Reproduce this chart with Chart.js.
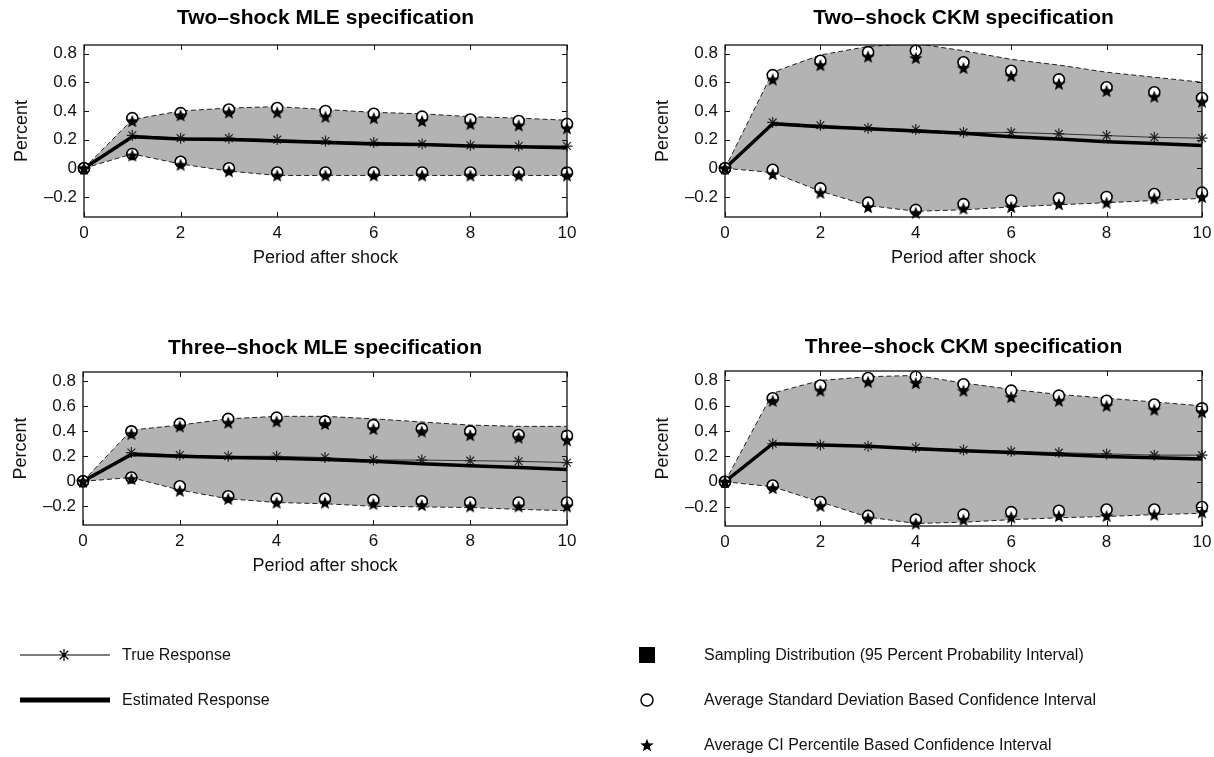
<!DOCTYPE html>
<html>
<head>
<meta charset="utf-8">
<title>Impulse responses</title>
<script src="https://cdn.jsdelivr.net/npm/chart.js@4.4.1/dist/chart.umd.min.js"></script>
<style>
  html, body { margin: 0; padding: 0; background: #fff; overflow: hidden; }
  body { width: 1214px; height: 757px; position: relative; font-family: 'Liberation Sans', Arial, sans-serif; color: #111; }
  canvas.panel { position: absolute; }
  #keyMarks { position: absolute; left: 0; top: 620px; }
  .key { position: absolute; font-size: 16px; line-height: 18px; white-space: nowrap; transform: translateY(-50%); }
</style>
</head>
<body>
<canvas id="p1" class="panel"></canvas>
<canvas id="p2" class="panel"></canvas>
<canvas id="p3" class="panel"></canvas>
<canvas id="p4" class="panel"></canvas>
<canvas id="keyMarks" width="1214" height="137"></canvas>
<div class="key" style="left:122px; top:655px">True Response</div>
<div class="key" style="left:122px; top:700px">Estimated Response</div>
<div class="key" style="left:704px; top:655px">Sampling Distribution (95 Percent Probability Interval)</div>
<div class="key" style="left:704px; top:700px">Average Standard Deviation Based Confidence Interval</div>
<div class="key" style="left:704px; top:745px">Average CI Percentile Based Confidence Interval</div>

<script>
// periods after the shock and axis ticks
var periods = [0, 1, 2, 3, 4, 5, 6, 7, 8, 9, 10];
var xTicks = [0, 2, 4, 6, 8, 10];
var yTicks = [-0.2, 0, 0.2, 0.4, 0.6, 0.8];

// Two-shock MLE
var twoMleBandHi = [0, 0.34, 0.40, 0.42, 0.43, 0.41, 0.39, 0.38, 0.36, 0.35, 0.335];
var twoMleBandLo = [0, 0.10, 0.03, -0.02, -0.05, -0.05, -0.05, -0.05, -0.05, -0.05, -0.05];
var twoMleSdHi = [0, 0.35, 0.385, 0.41, 0.42, 0.40, 0.38, 0.36, 0.34, 0.33, 0.31];
var twoMleSdLo = [0, 0.10, 0.045, 0.0, -0.03, -0.03, -0.03, -0.03, -0.03, -0.03, -0.03];
var twoMlePctHi = [0, 0.33, 0.37, 0.39, 0.39, 0.36, 0.35, 0.33, 0.31, 0.30, 0.28];
var twoMlePctLo = [0, 0.09, 0.025, -0.02, -0.05, -0.05, -0.05, -0.05, -0.05, -0.05, -0.05];
var twoMleTrue = [0, 0.23, 0.21, 0.21, 0.20, 0.19, 0.18, 0.17, 0.16, 0.155, 0.155];
var twoMleEst = [0, 0.22, 0.205, 0.20, 0.19, 0.18, 0.17, 0.165, 0.155, 0.15, 0.144];

// Two-shock CKM
var twoCkmBandHi = [0, 0.67, 0.79, 0.85, 0.87, 0.82, 0.76, 0.72, 0.67, 0.635, 0.60];
var twoCkmBandLo = [0, -0.03, -0.16, -0.26, -0.30, -0.29, -0.27, -0.255, -0.24, -0.225, -0.21];
var twoCkmSdHi = [0, 0.65, 0.75, 0.81, 0.82, 0.74, 0.68, 0.62, 0.565, 0.53, 0.49];
var twoCkmSdLo = [0, -0.01, -0.14, -0.24, -0.29, -0.25, -0.225, -0.21, -0.20, -0.18, -0.17];
var twoCkmPctHi = [0, 0.62, 0.72, 0.78, 0.77, 0.70, 0.645, 0.59, 0.54, 0.50, 0.465];
var twoCkmPctLo = [0, -0.04, -0.17, -0.27, -0.31, -0.28, -0.27, -0.25, -0.24, -0.21, -0.20];
var twoCkmTrue = [0, 0.32, 0.30, 0.28, 0.27, 0.25, 0.25, 0.24, 0.228, 0.216, 0.21];
var twoCkmEst = [0, 0.31, 0.29, 0.275, 0.26, 0.245, 0.22, 0.205, 0.185, 0.172, 0.158];

// Three-shock MLE
var threeMleBandHi = [0, 0.41, 0.45, 0.50, 0.52, 0.52, 0.50, 0.475, 0.45, 0.44, 0.44];
var threeMleBandLo = [0, 0.03, -0.07, -0.14, -0.17, -0.18, -0.20, -0.205, -0.21, -0.225, -0.235];
var threeMleSdHi = [0, 0.40, 0.46, 0.50, 0.51, 0.48, 0.45, 0.42, 0.40, 0.37, 0.365];
var threeMleSdLo = [0, 0.03, -0.04, -0.12, -0.14, -0.14, -0.15, -0.16, -0.17, -0.17, -0.17];
var threeMlePctHi = [0, 0.38, 0.44, 0.47, 0.48, 0.46, 0.42, 0.40, 0.37, 0.35, 0.33];
var threeMlePctLo = [0, 0.02, -0.075, -0.14, -0.17, -0.17, -0.18, -0.19, -0.20, -0.20, -0.20];
var threeMleTrue = [0, 0.23, 0.21, 0.20, 0.20, 0.19, 0.17, 0.17, 0.165, 0.16, 0.15];
var threeMleEst = [0, 0.215, 0.20, 0.19, 0.185, 0.175, 0.16, 0.14, 0.125, 0.11, 0.095];

// Three-shock CKM
var threeCkmBandHi = [0, 0.70, 0.80, 0.83, 0.84, 0.78, 0.73, 0.69, 0.66, 0.63, 0.60];
var threeCkmBandLo = [0, -0.04, -0.16, -0.28, -0.33, -0.32, -0.30, -0.285, -0.275, -0.26, -0.25];
var threeCkmSdHi = [0, 0.66, 0.76, 0.82, 0.83, 0.77, 0.72, 0.68, 0.64, 0.61, 0.58];
var threeCkmSdLo = [0, -0.03, -0.16, -0.27, -0.30, -0.26, -0.24, -0.23, -0.22, -0.22, -0.20];
var threeCkmPctHi = [0, 0.64, 0.72, 0.79, 0.78, 0.72, 0.67, 0.64, 0.60, 0.57, 0.55];
var threeCkmPctLo = [0, -0.05, -0.19, -0.29, -0.33, -0.30, -0.28, -0.27, -0.27, -0.26, -0.24];
var threeCkmTrue = [0, 0.30, 0.29, 0.28, 0.27, 0.25, 0.24, 0.23, 0.22, 0.21, 0.21];
var threeCkmEst = [0, 0.30, 0.29, 0.28, 0.26, 0.245, 0.23, 0.215, 0.20, 0.19, 0.18];

Chart.defaults.font.family = "'Liberation Sans', Arial, Helvetica, sans-serif";
Chart.defaults.color = '#111';

var AXIS_W = 84;   // room for y labels, same on the right so titles stay centred
var TITLE_H = 45;
var XAXIS_H = 52;
var TITLE_SIZE = 21;
var TITLE_LH = TITLE_SIZE * 1.2;

// filled five-point star used as a marker image
function starImage(r) {
  var c = document.createElement('canvas');
  c.width = c.height = Math.ceil(r * 2 + 2);
  var g = c.getContext('2d');
  g.translate(c.width / 2, c.height / 2 + r * 0.1);
  g.beginPath();
  for (var i = 0; i < 10; i++) {
    var rad = i % 2 ? r * 0.42 : r;
    var ang = -Math.PI / 2 + i * Math.PI / 5;
    g.lineTo(rad * Math.cos(ang), rad * Math.sin(ang));
  }
  g.closePath();
  g.fillStyle = '#000';
  g.fill();
  return c;
}
var star = starImage(7);

function pts(vals) {
  return periods.map(function(p, i) { return {x: p, y: vals[i]}; });
}

function tickLabel(v) {
  return v < 0 ? '\u2013' + String(Math.abs(v)) : String(v);
}

// black box round the plot with short inward ticks on all four sides
var boxFrame = {
  id: 'boxFrame',
  afterDatasetsDraw: function(chart) {
    var ctx = chart.ctx, a = chart.chartArea;
    var x = chart.scales.x, y = chart.scales.y;
    ctx.save();
    ctx.strokeStyle = '#111';
    ctx.lineWidth = 1.3;
    ctx.strokeRect(a.left, a.top, a.right - a.left, a.bottom - a.top);
    ctx.lineWidth = 1;
    ctx.beginPath();
    xTicks.forEach(function(v) {
      var px = Math.round(x.getPixelForValue(v)) + 0.5;
      ctx.moveTo(px, a.bottom); ctx.lineTo(px, a.bottom - 5);
      ctx.moveTo(px, a.top); ctx.lineTo(px, a.top + 5);
    });
    yTicks.forEach(function(v) {
      var py = Math.round(y.getPixelForValue(v)) + 0.5;
      ctx.moveTo(a.left, py); ctx.lineTo(a.left + 5, py);
      ctx.moveTo(a.right, py); ctx.lineTo(a.right - 5, py);
    });
    ctx.stroke();
    ctx.restore();
  }
};

function makePanel(id, box, yMin, yMax, title, titleTop, s) {
  var cv = document.getElementById(id);
  var w = (box.r - box.l) + 2 * AXIS_W;
  var h = (box.b - box.t) + TITLE_H + XAXIS_H;
  cv.width = w;
  cv.height = h;
  cv.style.left = (box.l - AXIS_W) + 'px';
  cv.style.top = (box.t - TITLE_H) + 'px';

  var markerBase = {showLine: false, clip: false};

  return new Chart(cv.getContext('2d'), {
    type: 'line',
    data: {
      datasets: [
        Object.assign({label: 'pct hi', data: pts(s.pctHi), pointStyle: star, pointRadius: 7}, markerBase),
        Object.assign({label: 'pct lo', data: pts(s.pctLo), pointStyle: star, pointRadius: 7}, markerBase),
        Object.assign({label: 'sd hi', data: pts(s.sdHi), pointStyle: 'circle', pointRadius: 5.5,
          pointBackgroundColor: '#fff', pointBorderColor: '#000', pointBorderWidth: 1.6}, markerBase),
        Object.assign({label: 'sd lo', data: pts(s.sdLo), pointStyle: 'circle', pointRadius: 5.5,
          pointBackgroundColor: '#fff', pointBorderColor: '#000', pointBorderWidth: 1.6}, markerBase),
        {label: 'Estimated Response', data: pts(s.est), borderColor: '#000', borderWidth: 3.5,
          pointRadius: 0, clip: 0},
        {label: 'True Response', data: pts(s.truth), borderColor: '#333', borderWidth: 1,
          pointStyle: 'star', pointRadius: 5.5, pointBorderColor: '#222', pointBorderWidth: 1.2, clip: false},
        {label: 'band hi', data: pts(s.bandHi), borderColor: '#222', borderWidth: 1,
          borderDash: [5, 3], pointRadius: 0, clip: 0},
        {label: 'band lo', data: pts(s.bandLo), borderColor: '#222', borderWidth: 1,
          borderDash: [5, 3], pointRadius: 0, clip: 0, fill: '-1', backgroundColor: '#b3b3b3'}
      ]
    },
    options: {
      responsive: false,
      animation: false,
      events: [],
      layout: {padding: 0},
      plugins: {
        legend: {display: false},
        tooltip: {enabled: false},
        title: {
          display: true,
          text: title,
          font: {size: TITLE_SIZE, weight: 'bold'},
          color: '#000',
          padding: {top: titleTop, bottom: TITLE_H - titleTop - TITLE_LH}
        }
      },
      scales: {
        x: {
          type: 'linear',
          min: 0, max: 10,
          afterBuildTicks: function(sc) { sc.ticks = xTicks.map(function(v) { return {value: v}; }); },
          afterFit: function(sc) { sc.height = XAXIS_H; },
          grid: {display: false, drawTicks: false},
          border: {display: false},
          ticks: {font: {size: 17}, padding: 6, maxRotation: 0, callback: tickLabel},
          title: {display: true, text: 'Period after shock', font: {size: 18}, padding: {top: 0, bottom: 0}}
        },
        y: {
          type: 'linear',
          min: yMin, max: yMax,
          afterBuildTicks: function(sc) { sc.ticks = yTicks.map(function(v) { return {value: v}; }); },
          afterFit: function(sc) { sc.width = AXIS_W; },
          grid: {display: false, drawTicks: false},
          border: {display: false},
          ticks: {font: {size: 17}, padding: 7, callback: tickLabel},
          title: {display: true, text: 'Percent', font: {size: 18}, padding: {top: 11, bottom: 0}}
        },
        y2: {
          type: 'linear',
          position: 'right',
          min: yMin, max: yMax,
          afterFit: function(sc) { sc.width = AXIS_W; },
          grid: {display: false, drawTicks: false},
          border: {display: false},
          ticks: {display: false}
        }
      }
    },
    plugins: [boxFrame]
  });
}

makePanel('p1', {l: 84, r: 567, t: 45, b: 217}, -0.34, 0.86, 'Two\u2013shock MLE specification', 6, {
  bandHi: twoMleBandHi, bandLo: twoMleBandLo, sdHi: twoMleSdHi, sdLo: twoMleSdLo,
  pctHi: twoMlePctHi, pctLo: twoMlePctLo, truth: twoMleTrue, est: twoMleEst
});
makePanel('p2', {l: 725, r: 1202, t: 45, b: 217}, -0.34, 0.86, 'Two\u2013shock CKM specification', 6, {
  bandHi: twoCkmBandHi, bandLo: twoCkmBandLo, sdHi: twoCkmSdHi, sdLo: twoCkmSdLo,
  pctHi: twoCkmPctHi, pctLo: twoCkmPctLo, truth: twoCkmTrue, est: twoCkmEst
});
makePanel('p3', {l: 83, r: 567, t: 372, b: 525}, -0.35, 0.875, 'Three\u2013shock MLE specification', 9, {
  bandHi: threeMleBandHi, bandLo: threeMleBandLo, sdHi: threeMleSdHi, sdLo: threeMleSdLo,
  pctHi: threeMlePctHi, pctLo: threeMlePctLo, truth: threeMleTrue, est: threeMleEst
});
makePanel('p4', {l: 725, r: 1202, t: 371, b: 526}, -0.35, 0.875, 'Three\u2013shock CKM specification', 9, {
  bandHi: threeCkmBandHi, bandLo: threeCkmBandLo, sdHi: threeCkmSdHi, sdLo: threeCkmSdLo,
  pctHi: threeCkmPctHi, pctLo: threeCkmPctLo, truth: threeCkmTrue, est: threeCkmEst
});

// legend symbols
(function drawKey() {
  var g = document.getElementById('keyMarks').getContext('2d');
  var top = 620;
  g.strokeStyle = '#000';
  g.fillStyle = '#000';

  // true response: thin line with asterisk
  g.lineWidth = 1.2;
  g.beginPath();
  g.moveTo(20, 655 - top); g.lineTo(110, 655 - top);
  for (var k = 0; k < 4; k++) {
    var ang = k * Math.PI / 4;
    g.moveTo(64 - 6 * Math.cos(ang), 655 - top - 6 * Math.sin(ang));
    g.lineTo(64 + 6 * Math.cos(ang), 655 - top + 6 * Math.sin(ang));
  }
  g.stroke();

  // estimated response: thick line
  g.fillRect(20, 700 - top - 2.5, 90, 5);

  // sampling distribution: solid square
  g.fillRect(639, 655 - top - 8, 16, 16);

  // standard deviation interval: open circle
  g.lineWidth = 1.5;
  g.beginPath();
  g.arc(647, 700 - top, 6, 0, Math.PI * 2);
  g.stroke();

  // percentile interval: filled star
  g.drawImage(star, 647 - star.width / 2, 745 - top - star.height / 2);
})();
</script>
</body>
</html>
